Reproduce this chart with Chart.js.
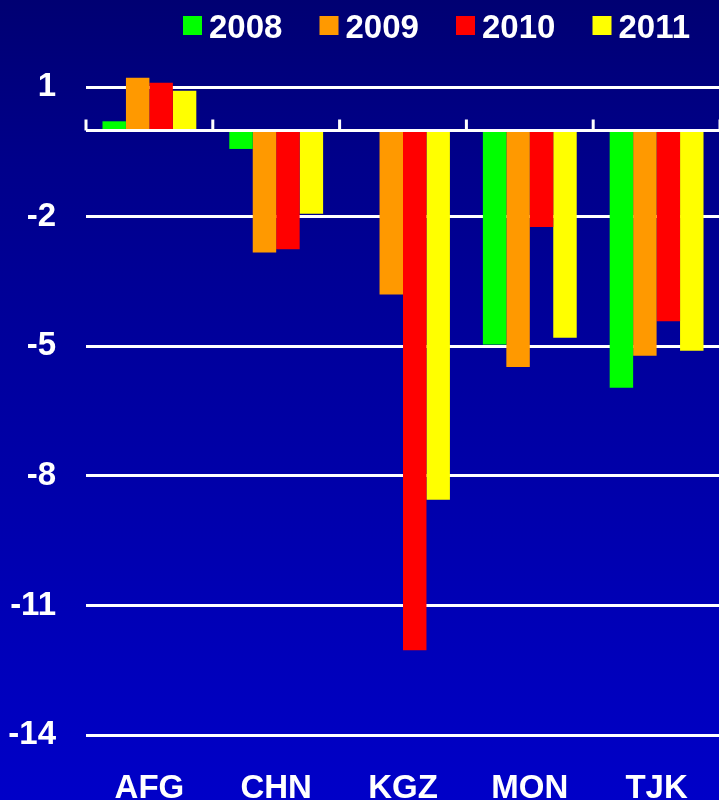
<!DOCTYPE html>
<html>
<head>
<meta charset="utf-8">
<title>Growth by country</title>
<script src="https://cdn.jsdelivr.net/npm/chart.js@4/dist/chart.umd.min.js"></script>
<style>
  html, body { margin: 0; padding: 0; overflow: hidden; }
  body {
    width: 719px;
    height: 800px;
    background: linear-gradient(#000072 0%, #00008a 20%, #0000c8 100%);
  }
  #wrap { width: 720px; height: 800px; }
</style>
</head>
<body>
<div id="wrap"><canvas id="chart"></canvas></div>
<script>
  "use strict";

  const countries = ["AFG", "CHN", "KGZ", "MON", "TJK"];
  const years = ["2008", "2009", "2010", "2011"];
  const values2008 = [0.21, -0.43, 0, -4.96, -5.96];
  const values2009 = [1.22, -2.83, -3.80, -5.48, -5.22];
  const values2010 = [1.10, -2.75, -12.04, -2.24, -4.42];
  const values2011 = [0.92, -1.93, -8.55, -4.80, -5.10];
  const yTicks = [-14, -11, -8, -5, -2, 1];

  const barColors = ["#00ff00", "#ff9900", "#ff0000", "#ffff00"];
  const FONT = '"Liberation Sans", Arial, sans-serif';

  // zero line plus the little upward ticks between countries
  const zeroAxis = {
    id: "zeroAxis",
    afterDatasetsDraw(chart) {
      let ctx = chart.ctx;
      let area = chart.chartArea;
      let x = chart.scales.x;
      let y0 = chart.scales.y.getPixelForValue(0);
      ctx.save();
      ctx.strokeStyle = "#ffffff";
      ctx.lineWidth = 3;
      ctx.beginPath();
      ctx.moveTo(area.left, y0);
      ctx.lineTo(area.right, y0);
      for (let i = 0; i <= countries.length; i++) {
        let px = x.getPixelForValue(i - 0.5);
        ctx.moveTo(px, y0);
        ctx.lineTo(px, y0 - 11);
      }
      ctx.stroke();
      ctx.restore();
    }
  };

  // legend row across the top
  const legendRow = {
    id: "legendRow",
    afterDraw(chart) {
      let ctx = chart.ctx;
      ctx.save();
      ctx.font = "bold 33px " + FONT;
      ctx.textBaseline = "alphabetic";
      chart.data.datasets.forEach((ds, i) => {
        let left = 183 + i * 136.5;
        ctx.fillStyle = ds.backgroundColor;
        ctx.fillRect(left, 16, 19, 19);
        ctx.fillStyle = "#ffffff";
        ctx.fillText(ds.label, left + 26, 38);
      });
      ctx.restore();
    }
  };

  const seriesValues = [values2008, values2009, values2010, values2011];

  new Chart(document.getElementById("chart"), {
    type: "bar",
    data: {
      labels: countries,
      datasets: years.map((year, i) => ({
        label: year,
        data: seriesValues[i],
        backgroundColor: barColors[i],
        borderWidth: 0
      }))
    },
    options: {
      responsive: true,
      maintainAspectRatio: false,
      animation: false,
      categoryPercentage: 0.74,
      barPercentage: 1,
      layout: { padding: { top: 44, left: 0, right: 0, bottom: 0 } },
      plugins: {
        legend: { display: false },
        tooltip: { enabled: false }
      },
      scales: {
        x: {
          grid: { display: false },
          border: { display: false },
          ticks: {
            color: "#ffffff",
            padding: 26,
            font: { family: FONT, size: 33, weight: "bold" }
          },
          afterFit(scale) { scale.height = 65; }
        },
        y: {
          min: -14,
          max: 2,
          afterBuildTicks(scale) {
            scale.ticks = yTicks.map(v => ({ value: v }));
          },
          afterFit(scale) {
            scale.width = 86;
            scale.paddingTop = 0;
            scale.paddingBottom = 0;
          },
          grid: { color: "#ffffff", lineWidth: 3, drawTicks: false },
          border: { display: false },
          ticks: {
            color: "#ffffff",
            padding: 30,
            font: { family: FONT, size: 33, weight: "bold" }
          }
        }
      }
    },
    plugins: [zeroAxis, legendRow]
  });
</script>
</body>
</html>
